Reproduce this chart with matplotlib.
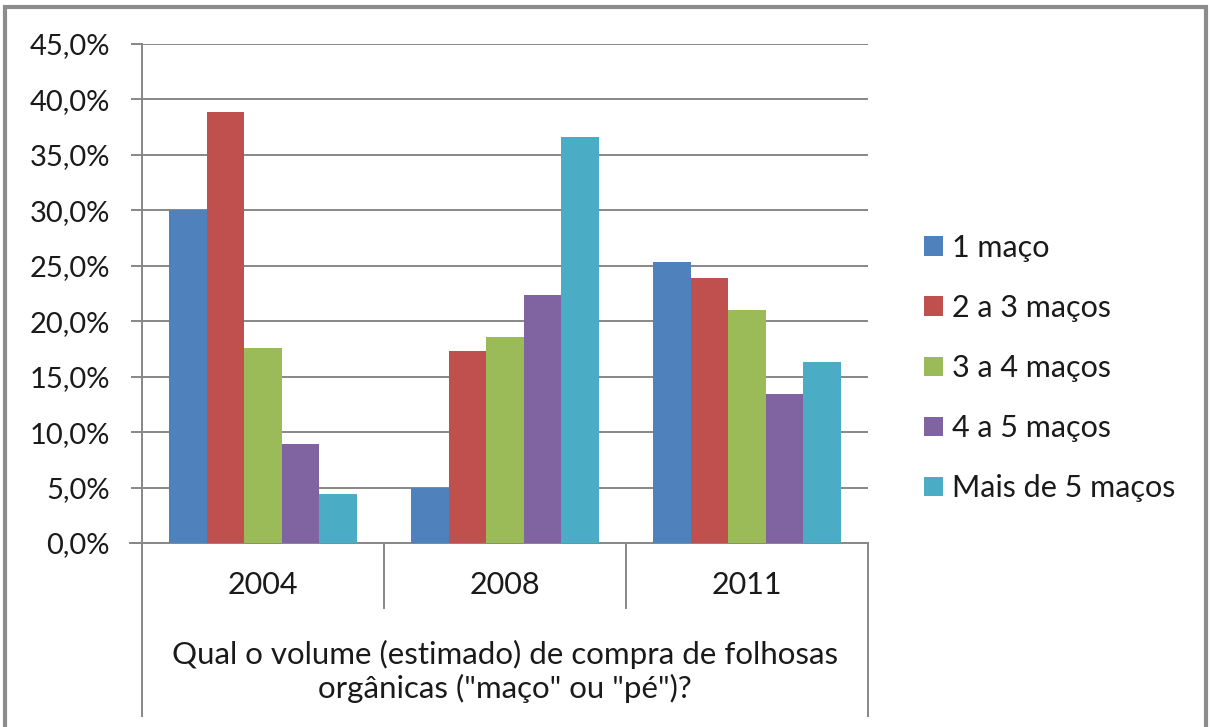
import matplotlib
matplotlib.use("Agg")
import matplotlib.pyplot as plt
from matplotlib.patches import Rectangle, Patch
from matplotlib.ticker import FuncFormatter, MultipleLocator

# data
years = ["2004", "2008", "2011"]
series = ["1 maço", "2 a 3 maços", "3 a 4 maços", "4 a 5 maços", "Mais de 5 maços"]
um_maco = [30.0, 5.0, 25.3]
dois_tres = [38.9, 17.3, 23.9]
tres_quatro = [17.6, 18.6, 21.0]
quatro_cinco = [8.9, 22.4, 13.4]
mais_cinco = [4.4, 36.6, 16.3]
outer_label = 'Qual o volume (estimado) de compra de folhosas\norgânicas ("maço" ou "pé")?'

values = [um_maco, dois_tres, tres_quatro, quatro_cinco, mais_cinco]
colors = ["#4F81BD", "#C0504D", "#9BBB59", "#8064A2", "#4BACC6"]

plt.rcParams['font.family'] = ['Lato', 'DejaVu Sans']
txt = "#1a1a1a"
grid = "#878787"
fs = 21

fig = plt.figure(figsize=(12.11, 7.27), dpi=100)
ax = fig.add_axes([142/1211, 1-543/727, (868-142)/1211, (543-44)/727])

bw = 0.155
for i, (name, vals) in enumerate(zip(series, values)):
    xs = [k + 0.5 + (i - 2) * bw for k in range(len(years))]
    ax.bar(xs, vals, width=bw, color=colors[i], label=name, zorder=3)

ax.set_xlim(0, 3)
ax.set_ylim(0, 45)
ax.yaxis.set_major_locator(MultipleLocator(5))
ax.yaxis.set_major_formatter(FuncFormatter(lambda v, p: ("%.1f%%" % v).replace(".", ",")))
ax.grid(axis="y", color=grid, linewidth=1.4, zorder=0)
ax.set_xticks([])
for s in ["top", "right", "bottom"]:
    ax.spines[s].set_visible(False)
ax.spines["left"].set_color(grid)
ax.spines["left"].set_linewidth(1.4)
ax.tick_params(axis="y", length=8, width=1.4, color=grid, pad=15, labelsize=fs, labelcolor=txt)

# multi-level category axis
tr = ax.get_xaxis_transform()
ax.plot([-0.05, 3], [0, 0], color=grid, lw=1.4, transform=tr, clip_on=False)
for xv in [1, 2]:
    ax.plot([xv, xv], [0, -(608-543)/499], color=grid, lw=1.4, transform=tr, clip_on=False)
for xv in [0, 3]:
    ax.plot([xv, xv], [0, -(716-543)/499], color=grid, lw=1.4, transform=tr, clip_on=False)
for k, y in enumerate(years):
    ax.text(k + 0.5, -(585-543)/499, y, transform=tr, ha="center", va="center", fontsize=22, color=txt)
ax.text(1.5, -(671-543)/499, outer_label, transform=tr, ha="center", va="center",
        fontsize=22.5, color=txt, linespacing=1.2)

handles = [Patch(facecolor=c, edgecolor="none") for c in colors]
fig.legend(handles, series, loc="center left", bbox_to_anchor=(912/1211, 1-368/727),
           frameon=False, fontsize=22, labelcolor=txt, handlelength=0.6, handleheight=0.6,
           handletextpad=0.3, labelspacing=1.05, borderaxespad=0)

fig.patches.append(Rectangle((5/1211, -0.05), 1-10/1211, 1.05-7/727, transform=fig.transFigure,
                             fill=False, edgecolor="#8c8c8c", linewidth=3))

fig.savefig("out.png", dpi=100)
